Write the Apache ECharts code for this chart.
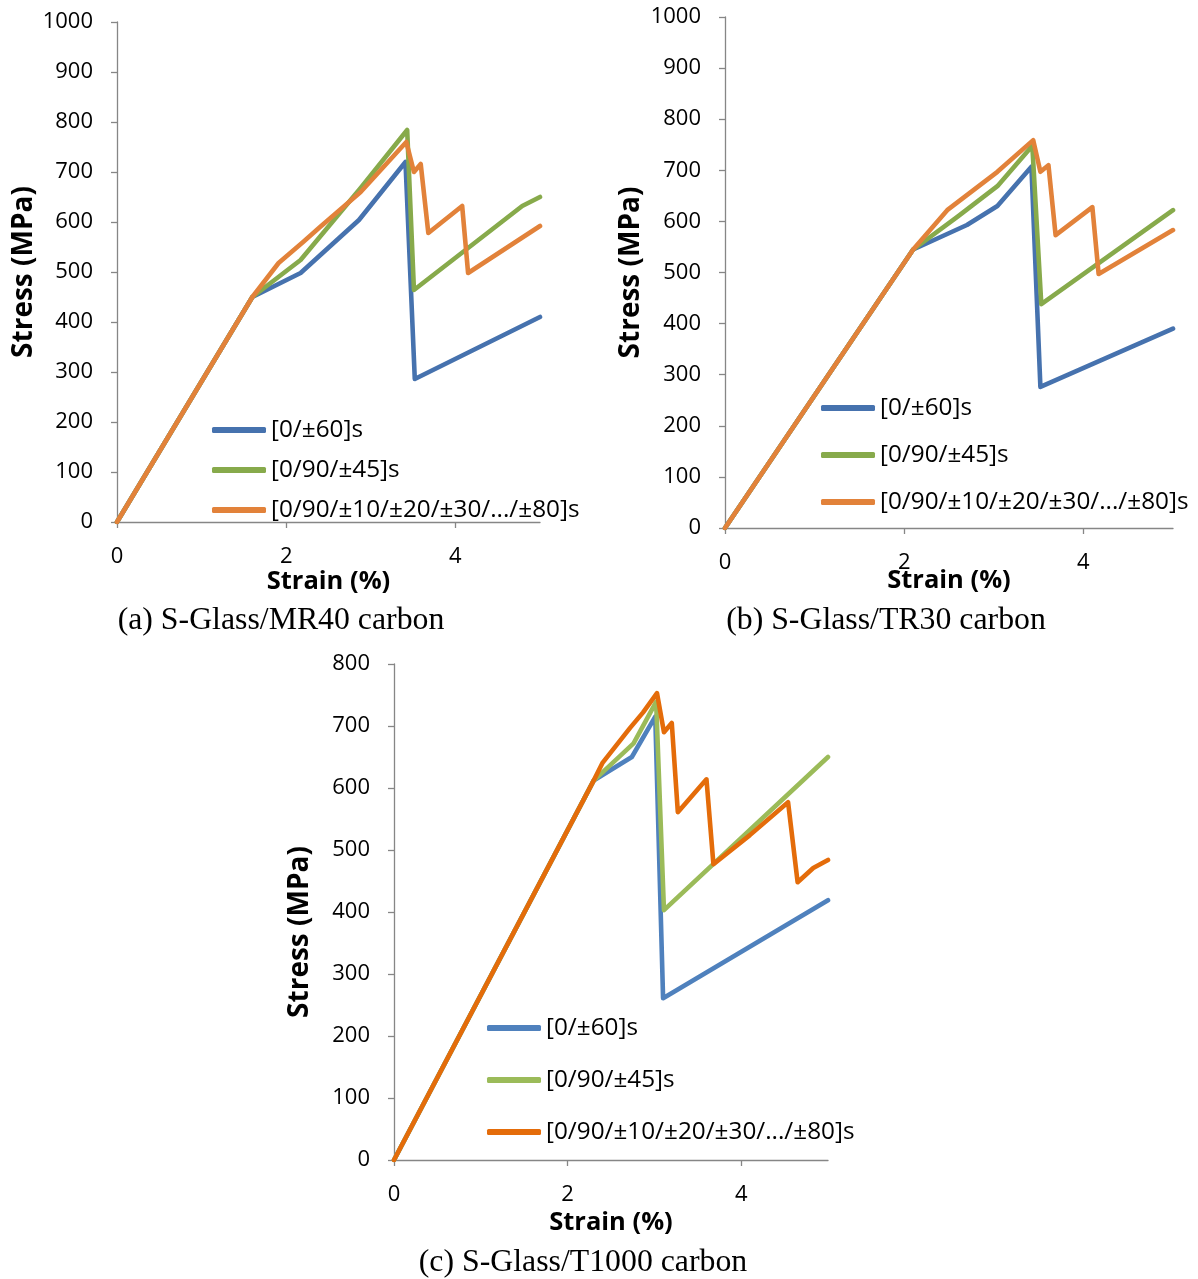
<!DOCTYPE html>
<html>
<head>
<meta charset="utf-8">
<script src="https://cdn.jsdelivr.net/npm/echarts@6/dist/echarts.min.js"></script>
<style>
html,body{margin:0;padding:0;background:#fff;}
#chart{width:1198px;height:1279px;}
</style>
</head>
<body>
<div id="chart"></div>
<script>
// ---- Series names ----
const seriesNames = ['[0/±60]s', '[0/90/±45]s', '[0/90/±10/±20/±30/.../±80]s'];
const captions = ['(a) S-Glass/MR40 carbon', '(b) S-Glass/TR30 carbon', '(c) S-Glass/T1000 carbon'];
const xTicks = [0, 2, 4];

// ---- (a) S-Glass/MR40 carbon ----
const aBlueStrain = [0, 1.6, 2.17, 2.86, 3.41, 3.52, 5.0];
const aBlueStress = [0, 450, 498, 604, 720, 286, 410];
const aGreenStrain = [0, 1.6, 2.17, 2.88, 3.43, 3.51, 4.79, 5.0];
const aGreenStress = [0, 450, 524, 668, 784, 464, 632, 650];
const aOrangeStrain = [0, 1.6, 1.91, 2.2, 2.4, 2.88, 3.42, 3.51, 3.59, 3.68, 4.08, 4.15, 5.0];
const aOrangeStress = [0, 450, 518, 560, 590, 660, 760, 700, 716, 578, 632, 498, 592];

// ---- (b) S-Glass/TR30 carbon ----
const bBlueStrain = [0, 2.1, 2.7, 3.04, 3.42, 3.52, 5.0];
const bBlueStress = [0, 545, 593, 630, 707, 276, 390];
const bGreenStrain = [0, 2.1, 2.6, 3.04, 3.43, 3.53, 5.0];
const bGreenStress = [0, 545, 610, 669, 748, 438, 622];
const bOrangeStrain = [0, 2.1, 2.48, 3.04, 3.44, 3.52, 3.61, 3.69, 4.1, 4.17, 5.0];
const bOrangeStress = [0, 545, 622, 697, 759, 697, 710, 573, 628, 497, 583];

// ---- (c) S-Glass/T1000 carbon ----
const cBlueStrain = [0, 2.3, 2.74, 3.01, 3.1, 5.0];
const cBlueStress = [0, 612, 650, 715, 261, 419];
const cGreenStrain = [0, 2.3, 2.76, 3.02, 3.11, 5.0];
const cGreenStress = [0, 612, 672, 739, 403, 650];
const cOrangeStrain = [0, 2.3, 2.4, 2.72, 2.87, 3.03, 3.11, 3.2, 3.27, 3.6, 3.68, 4.1, 4.54, 4.65, 4.83, 5.0];
const cOrangeStress = [0, 612, 640, 697, 722, 753, 690, 705, 561, 614, 477, 524, 577, 448, 471, 484];

const colorsAB = ['#4672ae', '#87aa4b', '#e2823a'];
const colorsC = ['#4f81bd', '#9bbb59', '#e46c0a'];

function zip(xs, ys) { return xs.map((x, i) => [x, ys[i]]); }

const SANS = '"Open Sans", "Noto Sans", sans-serif';

const grids = [
  { left: 117, top: 22, width: 423, height: 500 },
  { left: 725, top: 17, width: 448, height: 511 },
  { left: 394, top: 664, width: 434, height: 496 }
];
const yMax = [1000, 1000, 800];
const xNameGap = [47, 40, 50];
const yNameGap = [79, 80, 80];
const yNamePad = [[0,0,0,0],[0,0,0,0],[0,40,0,0]];

const xAxes = grids.map((g, i) => ({
  type: 'value', gridIndex: i, min: 0, max: 5, interval: 1,
  name: 'Strain (%)', nameLocation: 'middle', nameGap: xNameGap[i], nameMoveOverlap: false,
  nameTextStyle: { fontFamily: SANS, fontWeight: 'bold', fontSize: 25.5, color: '#000', verticalAlign: 'top' },
  axisLine: { show: true, onZero: false, lineStyle: { color: '#868686', width: 1.3 } },
  axisTick: { show: true, inside: false, length: 6, customValues: xTicks, lineStyle: { color: '#868686', width: 1.3 } },
  axisLabel: { show: true, margin: 24, customValues: xTicks, fontFamily: SANS, fontSize: 22, color: '#000' },
  splitLine: { show: false }
}));

const yAxes = grids.map((g, i) => ({
  type: 'value', gridIndex: i, min: 0, max: yMax[i], interval: 100,
  name: 'Stress (MPa)', nameLocation: 'middle', nameRotate: 90, nameGap: yNameGap[i], nameMoveOverlap: false,
  nameTextStyle: { fontFamily: SANS, fontWeight: 'bold', fontSize: 28, color: '#000', padding: yNamePad[i] },
  axisLine: { show: true, lineStyle: { color: '#868686', width: 1.3 } },
  axisTick: { show: true, inside: false, length: 6, lineStyle: { color: '#868686', width: 1.3 } },
  axisLabel: { show: true, margin: 24, fontFamily: SANS, fontSize: 22, color: '#000',
               formatter: v => String(v) },
  splitLine: { show: false }
}));

const datasets = [
  [zip(aBlueStrain, aBlueStress), zip(aGreenStrain, aGreenStress), zip(aOrangeStrain, aOrangeStress)],
  [zip(bBlueStrain, bBlueStress), zip(bGreenStrain, bGreenStress), zip(bOrangeStrain, bOrangeStress)],
  [zip(cBlueStrain, cBlueStress), zip(cGreenStrain, cGreenStress), zip(cOrangeStrain, cOrangeStress)]
];
const palettes = [colorsAB, colorsAB, colorsC];

const series = [];
datasets.forEach((set, gi) => {
  set.forEach((data, si) => {
    series.push({
      type: 'line', name: seriesNames[si], xAxisIndex: gi, yAxisIndex: gi,
      data: data, symbol: 'none', showSymbol: false, animation: false,
      lineStyle: { color: palettes[gi][si], width: 4.6, join: 'round', cap: 'round' },
      itemStyle: { color: palettes[gi][si] },
      z: 2 + si
    });
  });
});

const legendPos = [
  { left: 212, top: 418, itemGap: 16 },
  { left: 821, top: 396, itemGap: 23 },
  { left: 487, top: 1016, itemGap: 28 }
];
const legends = legendPos.map((p, gi) => ({
  orient: 'vertical', left: p.left, top: p.top, itemGap: p.itemGap, padding: 0,
  selectedMode: false, icon: 'roundRect', itemWidth: 54, itemHeight: 6,
  textStyle: { fontFamily: SANS, fontSize: 24.3, color: '#000', lineHeight: 24 },
  data: seriesNames.map((n, si) => ({ name: n, itemStyle: { color: palettes[gi][si] } }))
}));

const titlePos = [
  { left: 281, top: 605 },
  { left: 886, top: 605 },
  { left: 583, top: 1247 }
];
const titles = titlePos.map((p, i) => ({
  text: captions[i], left: p.left, top: p.top, textAlign: 'center', padding: 0,
  textStyle: { fontFamily: '"Liberation Serif", "Times New Roman", serif', fontWeight: 'normal', fontSize: 31.8, color: '#000' }
}));

const chart = echarts.init(document.getElementById('chart'), null, { renderer: 'canvas' });
chart.setOption({
  backgroundColor: '#ffffff',
  animation: false,
  title: titles,
  legend: legends,
  grid: grids.map(g => Object.assign({ containLabel: false, outerBoundsMode: 'none' }, g)),
  xAxis: xAxes,
  yAxis: yAxes,
  series: series
});
</script>
</body>
</html>
